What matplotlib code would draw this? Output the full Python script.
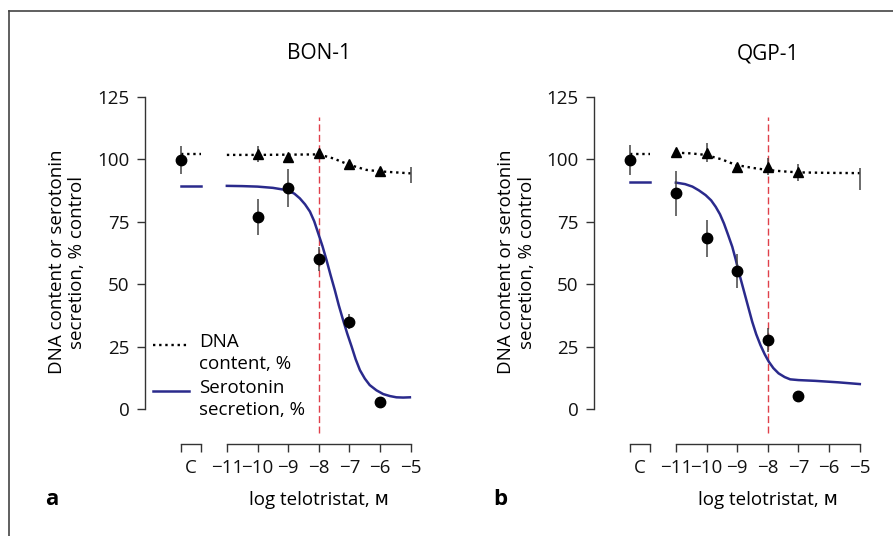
import numpy as np
import matplotlib.pyplot as plt
from matplotlib.lines import Line2D

plt.rcParams['font.family'] = ['Open Sans', 'DejaVu Sans']

# x positions (log M); control plotted left of the axis break
doses = [-11, -10, -9, -8, -7, -6, -5]
ctrl_x = -12.5
ctrl_end = -11.85
ctrl_label_x = -12.17
ref_line_x = -8

# --- panel a: BON-1 ---
bon_ctrl_y, bon_ctrl_err = 99.6, 5.6
bon_ctrl_dna_fit, bon_ctrl_sero_fit = 102.0, 89.3
bon_sero_x = [-10, -9, -8, -7, -6]
bon_sero_y = [77.1, 88.4, 60.2, 35.0, 2.9]
bon_sero_err = [7.2, 7.6, 4.9, 2.9, 0]
bon_dna_x = [-10, -9, -8, -7, -6, -5]
bon_dna_y = [102.2, 101.1, 102.4, 98.0, 95.5, 93.9]
bon_dna_err = [3.2, 1.0, 1.0, 1.0, 1.0, 3.2]
bon_dna_fit_x = [-11, -10, -9, -8, -7.53, -7.0, -6.45, -6.0, -5.0]
bon_dna_fit_y = [101.8, 101.8, 101.9, 102.0, 100.4, 97.8, 95.8, 95.2, 94.4]
bon_sero_fit_x = [-11.0, -10.5, -10.0, -9.5, -9.05, -8.8, -8.62, -8.45, -8.29, -8.15,
                  -8.02, -7.88, -7.75, -7.62, -7.48, -7.35, -7.21, -7.07, -6.93, -6.80,
                  -6.66, -6.50, -6.34, -6.12, -5.90, -5.68, -5.47, -5.25, -5.03]
bon_sero_fit_y = [89.4, 89.3, 89.1, 88.6, 87.7, 86.3, 84.4, 82.0, 79.1, 75.2,
                  70.4, 65.2, 59.7, 53.8, 47.7, 41.6, 35.7, 30.1, 25.0, 20.0,
                  15.6, 12.2, 9.6, 7.5, 6.0, 5.2, 4.7, 4.6, 4.7]

# --- panel b: QGP-1 ---
qgp_ctrl_y, qgp_ctrl_err = 99.8, 6.1
qgp_ctrl_dna_fit, qgp_ctrl_sero_fit = 102.0, 91.0
qgp_sero_x = [-11, -10, -9, -8, -7]
qgp_sero_y = [86.4, 68.4, 55.3, 27.6, 5.2]
qgp_sero_err = [8.9, 7.5, 6.9, 4.7, 0]
qgp_dna_x = [-11, -10, -9, -8, -7, -5]
qgp_dna_y = [103.1, 102.7, 97.1, 97.1, 94.8, 92.1]
qgp_dna_err = [1.0, 3.8, 1.0, 3.3, 3.3, 4.3]
qgp_dna_fit_x = [-11, -10.5, -10.03, -9.5, -9.05, -8.5, -8.03, -7.5, -7.0, -6.0, -5.0]
qgp_dna_fit_y = [102.7, 102.4, 101.8, 100.0, 97.8, 96.6, 95.8, 95.2, 94.8, 94.6, 94.5]
qgp_sero_fit_x = [-11.0, -10.7, -10.46, -10.25, -10.03, -9.85, -9.70, -9.56, -9.43, -9.30,
                  -9.16, -9.05, -8.95, -8.84, -8.73, -8.62, -8.51, -8.38, -8.24, -8.10,
                  -7.97, -7.82, -7.65, -7.45, -7.27, -7.0, -6.46, -5.70, -5.0]
qgp_sero_fit_y = [90.7, 90.1, 89.1, 87.6, 85.7, 83.6, 81.0, 78.0, 74.3, 69.9,
                  65.0, 60.0, 55.0, 50.0, 45.0, 40.0, 35.0, 30.0, 25.6, 21.9,
                  19.0, 16.4, 14.3, 12.8, 11.9, 11.6, 11.3, 10.7, 10.0]

legend_labels = ['DNA\ncontent, %', 'Serotonin\nsecretion, %']

panels = [
    ('BON-1', 'a', bon_ctrl_y, bon_ctrl_err, bon_ctrl_dna_fit, bon_ctrl_sero_fit,
     bon_sero_x, bon_sero_y, bon_sero_err, bon_dna_x, bon_dna_y, bon_dna_err,
     bon_dna_fit_x, bon_dna_fit_y, bon_sero_fit_x, bon_sero_fit_y),
    ('QGP-1', 'b', qgp_ctrl_y, qgp_ctrl_err, qgp_ctrl_dna_fit, qgp_ctrl_sero_fit,
     qgp_sero_x, qgp_sero_y, qgp_sero_err, qgp_dna_x, qgp_dna_y, qgp_dna_err,
     qgp_dna_fit_x, qgp_dna_fit_y, qgp_sero_fit_x, qgp_sero_fit_y),
]

axis_col = '#333333'
blue = '#2a2a8c'
red = '#e0404a'
dotted = (0, (1, 1.6))
fs = 13.5

W, H = 893, 536
fig = plt.figure(figsize=(W / 100, H / 100), dpi=100)

# frame lines of the figure (left and top only)
fig.add_artist(Line2D([9 / W, 9 / W], [0, 1 - 11 / H], color='#444444', lw=1.2))
fig.add_artist(Line2D([9 / W, 1], [1 - 11 / H, 1 - 11 / H], color='#444444', lw=1.2))

lefts = [145, 594]
for (title, letter, c_y, c_err, c_dna, c_sero, sx, sy, serr, dx, dy, derr,
     dfx, dfy, sfx, sfy), left in zip(panels, lefts):
    ax = fig.add_axes([left / W, (H - 444) / H, 275 / W, 359.5 / H])
    ax.set_xlim(-13.67, -4.7)
    ax.set_ylim(-14, 130)

    # fitted curves
    ax.plot(dfx, dfy, color='black', lw=1.7, linestyle=dotted, zorder=2)
    ax.plot(sfx, sfy, color=blue, lw=1.8, zorder=2)
    ax.plot([ctrl_x, ctrl_end], [c_dna, c_dna], color='black', lw=1.7,
            linestyle=dotted, zorder=2)
    ax.plot([ctrl_x, ctrl_end], [c_sero, c_sero], color=blue, lw=1.8, zorder=2)

    # reference line
    ax.vlines(ref_line_x, -9.6, 117, color=red, lw=1.0, linestyles=(0, (5, 2.5)), zorder=1)

    # data points
    ax.errorbar(dx[:-1], dy[:-1], yerr=derr[:-1], fmt='^', color='black', ms=7.5,
                ecolor='#444444', elinewidth=1.1, capsize=0, zorder=4)
    ax.errorbar(dx[-1:], dy[-1:], yerr=derr[-1:], fmt='none',
                ecolor='#444444', elinewidth=1.1, capsize=0, zorder=4)
    ax.errorbar(sx, sy, yerr=serr, fmt='o', color='black', ms=7.5,
                ecolor='#444444', elinewidth=1.1, capsize=0, zorder=4)
    ax.errorbar([ctrl_x], [c_y], yerr=[c_err], fmt='o', color='black', ms=7.5,
                ecolor='#444444', elinewidth=1.1, capsize=0, zorder=4)

    # axes styling
    for s in ['top', 'right']:
        ax.spines[s].set_visible(False)
    ax.spines['left'].set_bounds(0, 125)
    ax.spines['bottom'].set_bounds(doses[0], doses[-1])
    for s in ['left', 'bottom']:
        ax.spines[s].set_color(axis_col)
        ax.spines[s].set_linewidth(1.0)
    ax.set_yticks([0, 25, 50, 75, 100, 125])
    ax.set_xticks(doses + [ctrl_x, ctrl_end])
    ax.set_xticklabels([str(d).replace('-', '\u2212') for d in doses] + ['', ''])
    ax.set_xticks([ctrl_label_x], minor=True)
    ax.set_xticklabels(['C'], minor=True)
    ax.tick_params(axis='both', which='major', length=6, width=1.0, color=axis_col,
                   labelsize=fs, pad=5, labelcolor='#111111')
    ax.tick_params(axis='x', which='minor', length=0, labelsize=fs, pad=11,
                   labelcolor='#111111')
    ax.set_yticklabels(['0', '25', '50', '75', '100', '125'])
    # bracket for the control position
    ax.plot([ctrl_x, ctrl_end], [0, 0], color=axis_col, lw=1.0,
            transform=ax.get_xaxis_transform(), clip_on=False)

    ax.text(ref_line_x, 1.085, title, transform=ax.get_xaxis_transform(),
            ha='center', va='center', fontsize=15)
    ax.text(ref_line_x, -0.155, 'log telotristat, \u1d0d', transform=ax.get_xaxis_transform(),
            ha='center', va='center', fontsize=fs)
    ax.text(-0.34, -0.155, letter, transform=ax.transAxes, ha='center', va='center',
            fontsize=16, fontweight='bold')
    ax.text(-0.282, 0.506, 'DNA content or serotonin\nsecretion, % control',
            transform=ax.transAxes, rotation=90, ha='center', va='center',
            fontsize=fs, linespacing=1.15, multialignment='center')

    if letter == 'a':
        # legend, handle beside the first line of each label
        ax.plot([0.029, 0.160], [0.275, 0.275], color='black', lw=1.7,
                linestyle=dotted, transform=ax.transAxes, clip_on=False)
        ax.plot([0.029, 0.160], [0.147, 0.147], color=blue, lw=1.8,
                transform=ax.transAxes, clip_on=False)
        ax.text(0.196, 0.309, legend_labels[0], transform=ax.transAxes,
                ha='left', va='top', fontsize=fs, linespacing=1.3)
        ax.text(0.196, 0.181, legend_labels[1], transform=ax.transAxes,
                ha='left', va='top', fontsize=fs, linespacing=1.3)

fig.savefig('out.png', dpi=100)
